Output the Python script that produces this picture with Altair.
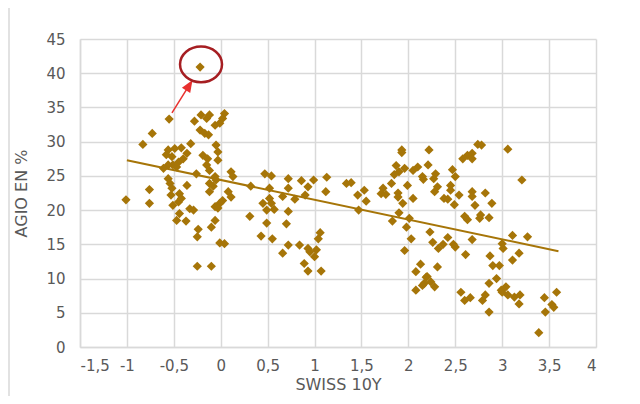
import altair as alt
import pandas as pd

# ---- data ----
swiss_10y = [
    -1.01, -0.76, -0.76, -0.83, -0.73, -0.55, -0.22, -0.28, -0.21, -0.15,
    -0.12, -0.22, -0.17, -0.13, -0.06, -0.01, 0.04, 0.02, -0.32, -0.42,
    -0.49, -0.56, -0.58, -0.52, -0.36, -0.40, -0.45, -0.51, -0.47, -0.56,
    -0.61, -0.19, -0.14, -0.15, -0.12, -0.05, -0.03, -0.03, -0.26, -0.06,
    -0.12, -0.05, 0.11, 0.13, -0.56, -0.54, -0.52, -0.36, -0.44, -0.12,
    -0.08, 0.08, 0.11, -0.53, -0.51, -0.45, -0.42, -0.44, -0.47, -0.37,
    -0.33, -0.29, -0.24, -0.25, -0.25, -0.10, -0.10, -0.06, -0.06, -0.01,
    0.02, -0.01, 0.04, -0.03,
    0.32, 0.47, 0.54, 0.72, 0.72, 0.86, 0.99, 1.13, 1.12, 0.93,
    0.90, 0.79, 0.66, 0.52, 0.52, 0.45, 0.54, 0.49, 0.57, 0.31,
    0.72, 0.49, 0.70, 0.43, 0.55, 0.72, 0.84, 0.66, 0.95, 1.02,
    1.00, 1.04, 1.06, 0.89, 0.93, 1.07, 1.34, 1.39, 0.93,
    1.46, 1.53, 1.55, 1.47, 1.93, 1.93, 2.22, 1.87, 1.96, 1.90,
    1.85, 2.05, 2.10, 2.16, 1.99, 1.82, 1.73, 1.71, 1.76, 1.89,
    1.89, 1.94, 2.05, 1.90, 1.83, 2.01, 1.98, 2.03, 2.21, 1.96,
    2.13, 2.08, 2.19, 2.15, 2.08, 2.29, 2.27, 2.31, 2.47, 2.50,
    2.58, 2.63, 2.68, 2.68, 2.74, 2.78, 3.06, 3.21, 2.45, 2.45,
    2.54, 2.68, 2.68, 2.82, 2.71, 2.89, 2.49, 2.38, 2.42, 2.60,
    2.63, 2.76, 2.77, 2.86, 3.11, 3.27, 3.00, 3.01, 3.18, 3.11,
    2.87, 2.90, 2.97, 2.94, 2.86, 2.99, 3.04, 3.06, 3.13, 3.19,
    3.18, 2.82, 2.79, 2.86, 2.56, 2.60, 2.66, 3.45, 3.58, 3.53,
    3.55, 3.46, 3.39, 2.23, 2.26, 2.42, 2.37, 2.32, 2.48, 2.50,
    2.68, 2.61, 2.31, 2.20, 2.24, 2.17, 2.28, 2.15, 2.28, 3.00,
]
agio_pct = [
    21.5, 23.0, 21.0, 29.6, 31.2, 33.3, 40.9, 33.0, 33.9, 33.4,
    33.9, 31.7, 31.2, 31.0, 32.4, 32.7, 34.1, 33.4, 29.7, 29.1,
    29.0, 28.8, 28.1, 27.8, 28.3, 27.5, 27.0, 26.6, 26.3, 26.6,
    26.1, 28.0, 27.5, 26.6, 25.8, 29.5, 28.5, 27.3, 25.3, 24.9,
    23.9, 24.4, 25.6, 24.9, 24.6, 23.9, 23.2, 23.6, 22.4, 22.7,
    23.5, 22.7, 21.9, 22.2, 20.7, 21.2, 21.7, 19.5, 18.5, 18.4,
    20.2, 20.0, 17.2, 16.1, 11.8, 11.8, 17.5, 18.5, 20.5, 21.0,
    21.4, 15.2, 15.1, 20.3,
    23.5, 25.3, 25.0, 24.6, 23.2, 24.3, 24.4, 24.8, 22.7, 23.4,
    22.2, 21.6, 22.0, 23.2, 21.7, 21.0, 21.0, 20.0, 20.1, 19.1,
    19.8, 18.1, 18.0, 16.2, 15.8, 14.9, 14.9, 13.7, 13.9, 14.2,
    13.2, 15.8, 16.7, 12.2, 11.1, 11.1, 23.9, 24.0, 14.4,
    22.2, 22.9, 21.3, 20.0, 28.8, 28.4, 28.8, 26.5, 26.1, 25.6,
    25.2, 25.8, 26.3, 24.5, 23.6, 23.9, 23.2, 22.4, 22.3, 22.5,
    21.9, 21.0, 21.7, 19.6, 18.4, 18.8, 17.5, 15.8, 26.6, 14.1,
    12.1, 11.0, 10.2, 9.0, 8.3, 25.3, 24.6, 23.4, 25.9, 24.9,
    27.5, 28.0, 28.3, 27.5, 29.6, 29.5, 28.9, 24.4, 23.6, 22.9,
    22.2, 22.7, 22.0, 22.5, 20.7, 21.0, 20.8, 21.7, 21.6, 19.1,
    18.6, 18.8, 19.3, 18.9, 16.3, 16.1, 15.1, 14.4, 13.7, 12.7,
    13.3, 11.9, 11.9, 10.0, 9.3, 8.3, 8.8, 7.6, 7.3, 7.6,
    6.3, 7.6, 6.8, 5.1, 8.0, 6.8, 7.2, 7.2, 8.0, 6.2,
    5.8, 5.1, 2.1, 16.8, 15.3, 16.0, 15.0, 14.4, 15.0, 14.6,
    15.7, 13.5, 11.7, 10.3, 9.5, 9.3, 8.8, 24.9, 22.7, 8.0,
]

trend_x = [-1.0, 3.6]
trend_y = [27.3, 14.0]

x_ticks = [-1.5, -1, -0.5, 0, 0.5, 1, 1.5, 2, 2.5, 3, 3.5, 4]
y_ticks = [0, 5, 10, 15, 20, 25, 30, 35, 40, 45]

# annotation (circled outlier and arrow)
circle_x = [-0.21]
circle_y = [41.3]
arrow_start_x = [-0.52]
arrow_start_y = [34.2]
arrow_head_x = [-0.335]
arrow_head_y = [38.25]

POINT_COLOR = "#A67508"
GRID = "#D9D9D9"
TEXT = "#595959"
FONT = "DejaVu Sans"

pts = pd.DataFrame({"x": swiss_10y, "y": agio_pct})
trend = pd.DataFrame({"x": trend_x, "y": trend_y})
circ = pd.DataFrame({"x": circle_x, "y": circle_y})
arrow = pd.DataFrame({"x": arrow_start_x, "y": arrow_start_y,
                      "x2": arrow_head_x, "y2": arrow_head_y})
head = pd.DataFrame({"x": arrow_head_x, "y": arrow_head_y})

xscale = alt.Scale(domain=[-1.5, 4], nice=False, zero=False)
yscale = alt.Scale(domain=[0, 45], nice=False)
xaxis = alt.Axis(values=x_ticks, title="SWISS 10Y",
                 labelExpr="replace(toString(datum.value), '.', ',')")
yaxis = alt.Axis(values=y_ticks, title="AGIO EN %")

xenc = alt.X("x:Q", scale=xscale, axis=xaxis)
yenc = alt.Y("y:Q", scale=yscale, axis=yaxis)

points = alt.Chart(pts).mark_point(
    shape="diamond", filled=True, size=85, color=POINT_COLOR, opacity=1
).encode(x=xenc, y=yenc)

line = alt.Chart(trend).mark_line(color=POINT_COLOR, strokeWidth=2).encode(
    x=xenc, y=yenc)

arrow_line = alt.Chart(arrow).mark_rule(color="#E8302E", strokeWidth=1.5).encode(
    x=xenc, y=yenc, x2="x2:Q", y2="y2:Q")

arrow_head = alt.Chart(head).mark_point(
    shape="M0,-1L0.8,1L-0.8,1Z", filled=True, size=150, angle=32,
    color="#E8302E", opacity=1
).encode(x=xenc, y=yenc)

ellipse = alt.Chart(circ).mark_point(
    shape="M-1,0A1,0.85 0 1,0 1,0A1,0.85 0 1,0 -1,0Z", filled=False,
    size=1764, color="#A61E22", strokeWidth=2.5, opacity=1
).encode(x=xenc, y=yenc)

border = alt.Chart(pd.DataFrame({"a": [0]})).mark_rule(
    color=GRID, strokeWidth=1.5
).encode(x=alt.value(-71), y=alt.value(-40), y2=alt.value(400))

chart = alt.layer(border, line, points, arrow_line, arrow_head, ellipse).properties(
    width=516, height=308,
    autosize=alt.AutoSizeParams(type="none"),
    padding={"left": 72, "top": 31, "right": 20, "bottom": 49},
).configure_view(stroke=None).configure_axis(
    labelFont=FONT, labelFontSize=15, labelColor=TEXT,
    titleFont=FONT, titleFontSize=16, titleColor=TEXT, titleFontWeight="normal",
    gridColor=GRID, gridWidth=1.5, domainColor=GRID, domainWidth=1.5,
    ticks=False,
).configure_axisX(labelPadding=11, titlePadding=3).configure_axisY(
    labelPadding=15, titlePadding=16)

chart.save("out.html", embed_options={"renderer": "svg", "actions": False})
